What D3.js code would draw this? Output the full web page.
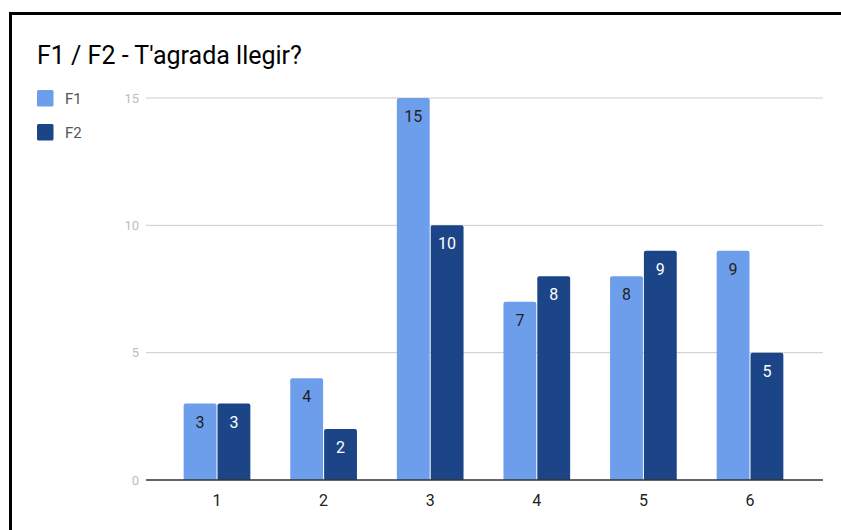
<!DOCTYPE html>
<html>
<head>
<meta charset="utf-8">
<script src="https://cdn.jsdelivr.net/npm/d3@7/dist/d3.min.js"></script>
<style>
  html, body { margin: 0; padding: 0; background: #fff; }
  svg { display: block; font-family: Roboto, "Noto Sans", sans-serif; }
</style>
</head>
<body>
<svg id="chart" width="841" height="530"></svg>
<script>
// Chart data
const categories = ["1", "2", "3", "4", "5", "6"];
const seriesNames = ["F1", "F2"];
const f1Values = [3, 4, 15, 7, 8, 9];
const f2Values = [3, 2, 10, 8, 9, 5];
const yTicks = [0, 5, 10, 15];
const title = "F1 / F2 - T'agrada llegir?";

const colors = { F1: "#6d9eeb", F2: "#1c4587" };
const labelColors = { F1: "#222222", F2: "#ffffff" };

const svg = d3.select("#chart");

// Frame around the chart
svg.append("rect")
  .attr("x", 10.5).attr("y", 13.5)
  .attr("width", 860).attr("height", 540)
  .attr("fill", "#fff")
  .attr("stroke", "#000").attr("stroke-width", 3);

// Title
svg.append("text")
  .attr("x", 37).attr("y", 64)
  .attr("font-size", 25)
  .attr("fill", "#000")
  .text(title);

// Scales
const plotLeft = 146, plotRight = 823;
const x0 = d3.scaleBand().domain(categories).range([163.7, 803.3]).paddingInner(0.365).paddingOuter(0.1825);
const x1 = d3.scaleBand().domain(seriesNames).range([0, x0.bandwidth()]);
const y = d3.scaleLinear().domain([0, 15]).range([480, 98]);

// Gridlines
svg.append("g").selectAll("line")
  .data(yTicks.filter(d => d !== 0))
  .join("line")
  .attr("x1", plotLeft).attr("x2", plotRight)
  .attr("y1", d => y(d)).attr("y2", d => y(d))
  .attr("stroke", "#cccccc").attr("stroke-width", 1);

// Y tick labels
svg.append("g").selectAll("text")
  .data(yTicks)
  .join("text")
  .attr("x", 139).attr("y", d => y(d) + 4.5)
  .attr("text-anchor", "end")
  .attr("font-size", 13)
  .attr("fill", "#bdbdbd")
  .text(d => d);

// Bars
const rows = categories.map((c, i) => ({ cat: c, F1: f1Values[i], F2: f2Values[i] }));
const groups = svg.append("g").selectAll("g")
  .data(rows)
  .join("g")
  .attr("transform", d => `translate(${x0(d.cat)},0)`);

const bars = groups.selectAll("g.bar")
  .data(d => seriesNames.map(s => ({ series: s, value: d[s] })))
  .join("g").attr("class", "bar");

bars.append("path")
  .attr("d", d => {
    const bx = x1(d.series) + 0.5, bw = x1.bandwidth() - 1;
    const top = y(d.value), bottom = y(0), r = 2;
    return `M${bx},${bottom}V${top + r}Q${bx},${top} ${bx + r},${top}H${bx + bw - r}Q${bx + bw},${top} ${bx + bw},${top + r}V${bottom}Z`;
  })
  .attr("fill", d => colors[d.series]);

bars.append("text")
  .attr("x", d => x1(d.series) + x1.bandwidth() / 2)
  .attr("y", d => y(d.value) + 24)
  .attr("text-anchor", "middle")
  .attr("font-size", 16)
  .attr("fill", d => labelColors[d.series])
  .text(d => d.value);

// Baseline
svg.append("line")
  .attr("x1", plotLeft).attr("x2", plotRight)
  .attr("y1", y(0)).attr("y2", y(0))
  .attr("stroke", "#333333").attr("stroke-width", 1.5);

// X axis labels
svg.append("g").selectAll("text")
  .data(categories)
  .join("text")
  .attr("x", d => x0(d) + x0.bandwidth() / 2)
  .attr("y", 506)
  .attr("text-anchor", "middle")
  .attr("font-size", 16)
  .attr("fill", "#222")
  .text(d => d);

// Legend
const legend = svg.append("g").selectAll("g")
  .data(seriesNames)
  .join("g")
  .attr("transform", (d, i) => `translate(37,${90 + i * 34})`);
legend.append("rect")
  .attr("width", 16.5).attr("height", 16.5)
  .attr("rx", 1.5)
  .attr("fill", d => colors[d]);
legend.append("text")
  .attr("x", 28).attr("y", 13.5)
  .attr("font-size", 15)
  .attr("fill", "#555")
  .text(d => d);
</script>
</body>
</html>
